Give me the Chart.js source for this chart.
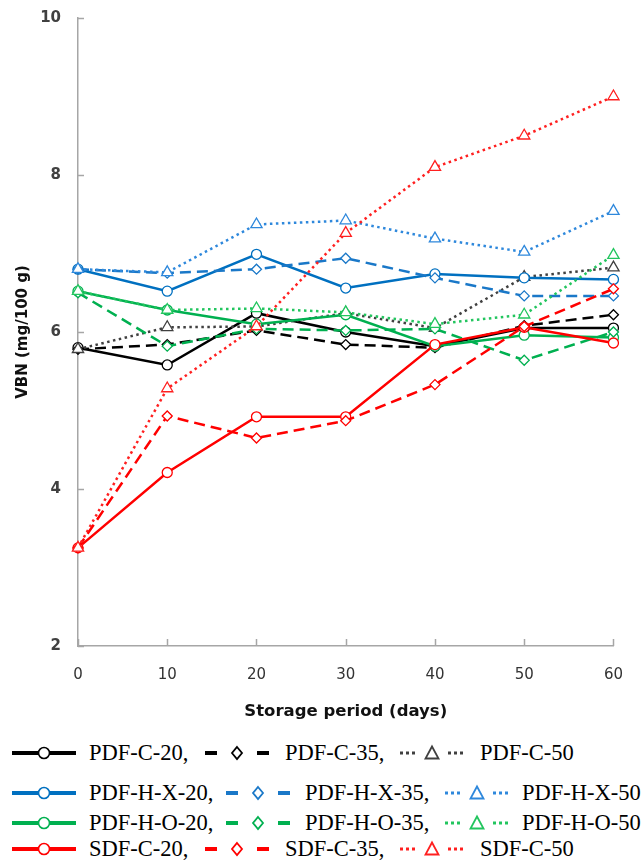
<!DOCTYPE html>
<html>
<head>
<meta charset="utf-8">
<script src="https://cdn.jsdelivr.net/npm/chart.js@4/dist/chart.umd.min.js"></script>
<style>
  body { margin: 0; background: #fff; }
  #wrap { position: relative; width: 643px; height: 860px; overflow: hidden; }
  #chart { position: absolute; left: 0; top: -8px; }
  .lg-sample { position: absolute; }
  .lg-text {
    position: absolute;
    font-family: "Liberation Serif", "Times New Roman", serif;
    font-size: 22.5px;
    line-height: 23px;
    color: #000;
    white-space: nowrap;
  }
</style>
</head>
<body>
<div id="wrap">
  <canvas id="chart" width="643" height="738"></canvas>
  <div id="legend"></div>
</div>
<script>
// storage period (days)
const days = ["0", "10", "20", "30", "40", "50", "60"];

const pdfC20 = [5.80, 5.58, 6.24, 6.00, 5.82, 6.05, 6.05];
const pdfC35 = [5.78, 5.84, 6.02, 5.84, 5.80, 6.08, 6.22];
const pdfC50 = [5.78, 6.06, 6.07, 6.24, 6.05, 6.70, 6.82];

const pdfHX20 = [6.80, 6.52, 6.99, 6.56, 6.74, 6.69, 6.67];
const pdfHX35 = [6.80, 6.75, 6.80, 6.94, 6.69, 6.46, 6.46];
const pdfHX50 = [6.80, 6.76, 7.37, 7.42, 7.19, 7.02, 7.54];

const pdfHO20 = [6.52, 6.28, 6.10, 6.22, 5.82, 5.96, 5.93];
const pdfHO35 = [6.50, 5.82, 6.04, 6.02, 6.04, 5.64, 6.00];
const pdfHO50 = [6.52, 6.28, 6.30, 6.25, 6.10, 6.22, 6.98];

const sdfC20 = [3.25, 4.21, 4.92, 4.92, 5.84, 6.06, 5.86];
const sdfC35 = [3.25, 4.93, 4.65, 4.87, 5.33, 6.07, 6.55];
const sdfC50 = [3.25, 5.28, 6.07, 7.26, 8.10, 8.50, 9.00];

const yTicks = [2, 4, 6, 8, 10];

const axisColor = "#a6a6a6";

const styles = {
  solid: { dash: [], point: "circle", radius: 5 },
  dashed: { dash: [11, 6], point: "rectRot", radius: 5 },
  dotted: { dash: [2.5, 3.5], point: "triangle", radius: 6.5 },
};

function makeSet(label, data, color, kind) {
  const s = styles[kind];
  return {
    label: label,
    data: data,
    kind: kind,
    borderColor: color,
    borderWidth: 2.5,
    borderDash: s.dash,
    pointStyle: s.point,
    pointRadius: s.radius,
    pointBorderWidth: 1.3,
    pointBorderColor: color,
    pointBackgroundColor: "#fff",
    tension: 0,
    fill: false,
  };
}

const datasets = [
  makeSet("PDF-C-20,", pdfC20, "#000000", "solid"),
  makeSet("PDF-C-35,", pdfC35, "#000000", "dashed"),
  makeSet("PDF-C-50", pdfC50, "#404040", "dotted"),
  makeSet("PDF-H-X-20,", pdfHX20, "#0070c0", "solid"),
  makeSet("PDF-H-X-35,", pdfHX35, "#1a78c8", "dashed"),
  makeSet("PDF-H-X-50", pdfHX50, "#2e88dc", "dotted"),
  makeSet("PDF-H-O-20,", pdfHO20, "#00b050", "solid"),
  makeSet("PDF-H-O-35,", pdfHO35, "#00b050", "dashed"),
  makeSet("PDF-H-O-50", pdfHO50, "#22c55e", "dotted"),
  makeSet("SDF-C-20,", sdfC20, "#ff0000", "solid"),
  makeSet("SDF-C-35,", sdfC35, "#ff0000", "dashed"),
  makeSet("SDF-C-50", sdfC50, "#ff2020", "dotted"),
];
// later series on top, like the original
datasets.forEach((d, i) => (d.order = datasets.length - i));

// small tick marks pointing into the plot
const innerTicks = {
  id: "innerTicks",
  beforeDatasetsDraw(chart) {
    const { ctx, chartArea, scales } = chart;
    ctx.save();
    ctx.strokeStyle = axisColor;
    ctx.lineWidth = 1.5;
    ctx.beginPath();
    scales.y.ticks.forEach((t) => {
      const py = Math.round(scales.y.getPixelForValue(t.value)) + 0.5;
      ctx.moveTo(chartArea.left, py);
      ctx.lineTo(chartArea.left + 6, py);
    });
    scales.x.ticks.forEach((t, i) => {
      const px = Math.round(scales.x.getPixelForTick(i)) + 0.5;
      ctx.moveTo(px, chartArea.bottom);
      ctx.lineTo(px, chartArea.bottom - 7);
    });
    ctx.stroke();
    ctx.restore();
  },
};

const ctx = document.getElementById("chart").getContext("2d");
const myChart = new Chart(ctx, {
  type: "line",
  data: { labels: days, datasets: datasets },
  plugins: [innerTicks],
  options: {
    responsive: false,
    animation: false,
    layout: { padding: { top: 10, right: 13, left: 0, bottom: 0 } },
    plugins: { legend: { display: false }, tooltip: { enabled: false } },
    scales: {
      x: {
        offset: false,
        grid: { display: true, drawOnChartArea: false, drawTicks: false },
        border: { display: true, color: axisColor, width: 1.5 },
        ticks: {
          padding: 20,
          color: "#333",
          font: { family: "DejaVu Sans", size: 15 },
          maxRotation: 0,
        },
        title: {
          display: true,
          text: "Storage period (days)",
          color: "#111",
          font: { family: "DejaVu Sans", size: 16.5, weight: "bold" },
          padding: { top: 0, bottom: 8 },
        },
        afterFit(scale) {
          scale.height = 84;
        },
      },
      y: {
        min: 2,
        max: 10,
        afterBuildTicks(scale) {
          scale.ticks = yTicks.map((v) => ({ value: v }));
        },
        grid: { display: true, drawOnChartArea: false, drawTicks: false },
        border: { display: true, color: axisColor, width: 1.5 },
        ticks: {
          padding: 17,
          color: "#404040",
          font: { family: "DejaVu Sans", size: 15, weight: "bold" },
        },
        title: {
          display: true,
          text: "VBN (mg/100 g)",
          color: "#111",
          font: { family: "DejaVu Sans", size: 15, weight: "bold" },
          padding: { top: 14, bottom: 0 },
        },
        afterFit(scale) {
          scale.width = 78;
        },
      },
    },
  },
});

// legend below the chart, one row per group, samples drawn as svg
const legendRows = [
  { y: 753, sx: [12, 205, 400], tx: [89, 285, 480] },
  { y: 793, sx: [12, 226, 445], tx: [89, 305, 522] },
  { y: 823, sx: [12, 226, 445], tx: [89, 305, 522] },
  { y: 849, sx: [12, 205, 400], tx: [89, 285, 480] },
];

function sampleSvg(d) {
  const w = 64, h = 20, cy = 10, cx = 32;
  const c = d.borderColor;
  let line = "";
  let mark = "";
  if (d.kind === "solid") {
    line = `<line x1="0" y1="${cy}" x2="${w}" y2="${cy}" stroke="${c}" stroke-width="4"/>`;
    mark = `<circle cx="${cx}" cy="${cy}" r="5.5" fill="#fff" stroke="${c}" stroke-width="1.6"/>`;
  } else if (d.kind === "dashed") {
    line =
      `<line x1="0" y1="${cy}" x2="12" y2="${cy}" stroke="${c}" stroke-width="4"/>` +
      `<line x1="${w - 12}" y1="${cy}" x2="${w}" y2="${cy}" stroke="${c}" stroke-width="4"/>`;
    mark = `<polygon points="${cx},${cy - 6} ${cx + 5},${cy} ${cx},${cy + 6} ${cx - 5},${cy}" fill="#fff" stroke="${c}" stroke-width="1.8"/>`;
  } else {
    line =
      `<line x1="0" y1="${cy}" x2="16" y2="${cy}" stroke="${c}" stroke-width="3" stroke-dasharray="3 3"/>` +
      `<line x1="${w - 16}" y1="${cy}" x2="${w}" y2="${cy}" stroke="${c}" stroke-width="3" stroke-dasharray="3 3"/>`;
    mark = `<polygon points="${cx},${cy - 6.5} ${cx + 6.5},${cy + 5.5} ${cx - 6.5},${cy + 5.5}" fill="#fff" stroke="${c}" stroke-width="1.8"/>`;
  }
  return `<svg width="${w}" height="${h}" xmlns="http://www.w3.org/2000/svg">${line}${mark}</svg>`;
}

const legend = document.getElementById("legend");
legendRows.forEach((row, r) => {
  for (let k = 0; k < 3; k++) {
    const d = datasets[r * 3 + k];
    const s = document.createElement("div");
    s.className = "lg-sample";
    s.style.left = row.sx[k] + "px";
    s.style.top = row.y - 10 + "px";
    s.innerHTML = sampleSvg(d);
    legend.appendChild(s);

    const t = document.createElement("div");
    t.className = "lg-text";
    t.style.left = row.tx[k] + "px";
    t.style.top = row.y - 12 + "px";
    t.textContent = d.label;
    legend.appendChild(t);
  }
});
</script>
</body>
</html>
